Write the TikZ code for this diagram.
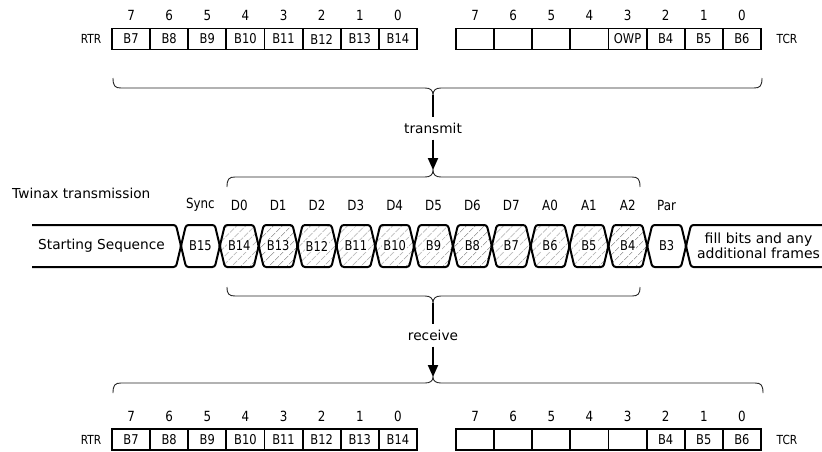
\documentclass[tikz,border=0pt]{standalone}
\usepackage{fontspec}
\setmainfont{DejaVu Sans}
\newfontfamily\narrowfont{DejaVu Sans}[FakeStretch=0.85]
\usetikzlibrary{positioning, arrows.meta, patterns.meta}

\begin{document}
\begin{tikzpicture}[
      x=1pt, y=-1pt,
      reg_cell/.style={draw, line width=1.8pt, minimum width=38.1pt, minimum height=21pt, inner sep=0pt, font=\narrowfont\fontsize{13.5}{13}\selectfont},
      bit_num/.style={inner sep=0pt, font=\narrowfont\fontsize{14}{14}\selectfont},
      reg_name/.style={inner sep=0pt, font=\narrowfont\fontsize{12.5}{12}\selectfont},
      field_name/.style={inner sep=0pt, font=\narrowfont\fontsize{14}{14}\selectfont},
      sig_label/.style={fill=white, inner sep=1pt, font=\narrowfont\fontsize{13.5}{13}\selectfont},
      sig_line/.style={line width=2pt, rounded corners=2.5pt},
      hatch_fill/.style={pattern={Lines[angle=45, distance=6.5pt, line width=0.5pt]}, pattern color=black!55},
      brace_line/.style={line width=0.9pt, black!85},
      stem_line/.style={line width=2pt},
      arrow_line/.style={-{Triangle[length=12pt, width=10pt]}, line width=2pt},
      big_text/.style={inner sep=2pt, font=\fontsize{13.7}{13}\selectfont},
      dir_text/.style={inner xsep=2pt, inner ysep=6pt, font=\fontsize{13.7}{13}\selectfont}
    ]
      \useasboundingbox (0,0) rectangle (822,451);
      \clip (0,0) rectangle (822,451);

      % registers, top
      \node[reg_name] (rtr_top) at (91,39) {RTR};
      \node[reg_name] (tcr_top) at (787,39) {TCR};
      \foreach \lab [count=\i from 0] in {B7,B8,B9,B10,B11,B12,B13,B14} {
        \pgfmathtruncatemacro\bit{7-\i}
        \node[reg_cell] (rtr_top\i) at ({131.06+\i*38.125},39) {\lab};
        \node[bit_num] (rtr_top_bit\i) at ({131.06+\i*38.125},15) {\bit};
      }
      \foreach \lab [count=\i from 0] in {{},{},{},{},OWP,B4,B5,B6} {
        \pgfmathtruncatemacro\bit{7-\i}
        \node[reg_cell] (tcr_top\i) at ({475.06+\i*38.125},39) {\lab};
        \node[bit_num] (tcr_top_bit\i) at ({475.06+\i*38.125},15) {\bit};
      }

      % brace below the top registers
      \draw[brace_line] (113,78) .. controls (113,86) and (115,88) .. (121,88) -- (425,88)
        .. controls (430,88) and (433,90) .. (433,95) coordinate (top_cusp)
        .. controls (433,90) and (436,88) .. (441,88) -- (754,88)
        .. controls (760,88) and (762,86) .. (762,78);

      \node[dir_text] (transmit) at (433,128) {transmit};

      % brace above the frame
      \draw[brace_line] (227,187) .. controls (227,179) and (229,177) .. (235,177) -- (425,177)
        .. controls (430,177) and (433,175) .. (433,170) coordinate (tx_cusp)
        .. controls (433,175) and (436,177) .. (441,177) -- (632,177)
        .. controls (638,177) and (640,179) .. (640,187);

      \draw[stem_line] (top_cusp) -- (transmit);
      \draw[arrow_line] (transmit) -- (tx_cusp);

      % twinax frame
      \node[big_text, anchor=west] (twinax) at (10,193) {Twinax transmission};
      \draw[sig_line] (32,225) -- (176,225) -- (181,246) -- (176,267) -- (32,267);
      \node[big_text] (start_seq) at (101.5,246) {Starting Sequence};
      \foreach \lab/\fld [count=\k from 0] in {B15/Sync,B14/D0,B13/D1,B12/D2,B11/D3,B10/D4,B9/D5,B8/D6,B7/D7,B6/A0,B5/A1,B4/A2,B3/Par} {
        \pgfmathsetmacro\xa{181+\k*38.85}
        \pgfmathsetmacro\xb{\xa+38.85}
        \ifnum\k>0 \ifnum\k<12
          \path[hatch_fill] (\xa,246) -- (\xa+5,225) -- (\xb-5,225) -- (\xb,246) -- (\xb-5,267) -- (\xa+5,267) -- cycle;
        \fi\fi
        \draw[sig_line] (\xa,246) -- (\xa+5,225) -- (\xb-5,225) -- (\xb,246) -- (\xb-5,267) -- (\xa+5,267) -- cycle;
        \node[sig_label] (cell\k) at ({(\xa+\xb)/2},246) {\lab};
        \node[field_name] (field\k) at ({(\xa+\xb)/2},205) {\fld};
      }
      \draw[sig_line] (830,225) -- (691,225) -- (686,246) -- (691,267) -- (830,267);
      \node[big_text, align=center, font=\fontsize{14}{13}\selectfont] (fill_bits) at (758.5,246) {fill bits and any\\additional frames};

      % brace below the frame
      \draw[brace_line] (227,287) .. controls (227,294) and (229,296) .. (235,296) -- (425,296)
        .. controls (430,296) and (433,298) .. (433,303) coordinate (rx_cusp)
        .. controls (433,298) and (436,296) .. (441,296) -- (632,296)
        .. controls (638,296) and (640,294) .. (640,287);

      \node[dir_text] (receive) at (433,335) {receive};

      % brace above the bottom registers
      \draw[brace_line] (113,393) .. controls (113,385) and (115,383) .. (121,383) -- (425,383)
        .. controls (430,383) and (433,381) .. (433,377) coordinate (bot_cusp)
        .. controls (433,381) and (436,383) .. (441,383) -- (755,383)
        .. controls (761,383) and (763,385) .. (763,393);

      \draw[stem_line] (rx_cusp) -- (receive);
      \draw[arrow_line] (receive) -- (bot_cusp);

      % registers, bottom
      \node[reg_name] (rtr_bot) at (91,439.5) {RTR};
      \node[reg_name] (tcr_bot) at (787,439.5) {TCR};
      \foreach \lab [count=\i from 0] in {B7,B8,B9,B10,B11,B12,B13,B14} {
        \pgfmathtruncatemacro\bit{7-\i}
        \node[reg_cell] (rtr_bot\i) at ({131.06+\i*38.125},439.5) {\lab};
        \node[bit_num] (rtr_bot_bit\i) at ({131.06+\i*38.125},416) {\bit};
      }
      \foreach \lab [count=\i from 0] in {{},{},{},{},{},B4,B5,B6} {
        \pgfmathtruncatemacro\bit{7-\i}
        \node[reg_cell] (tcr_bot\i) at ({475.06+\i*38.125},439.5) {\lab};
        \node[bit_num] (tcr_bot_bit\i) at ({475.06+\i*38.125},416) {\bit};
      }
    \end{tikzpicture}
\end{document}
